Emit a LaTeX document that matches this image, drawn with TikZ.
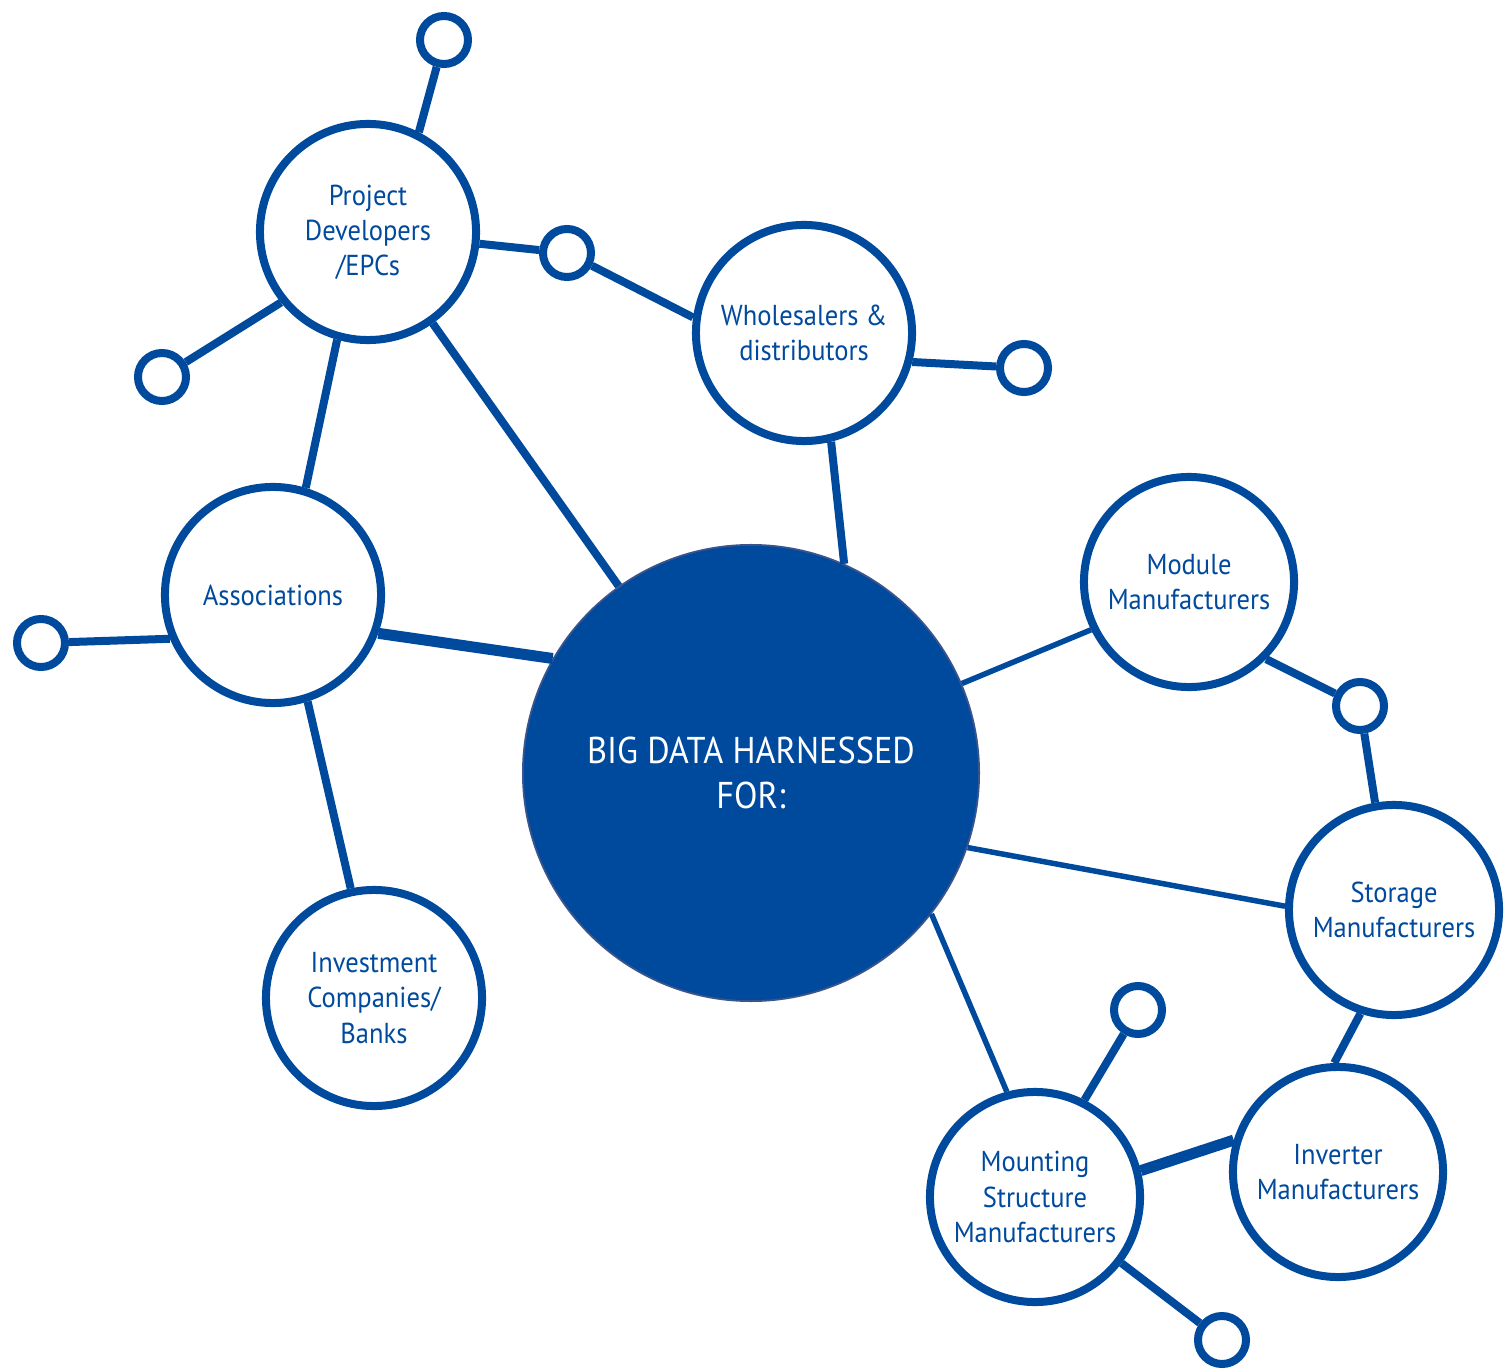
\documentclass[tikz,border=0pt]{standalone}
\usepackage{fontspec}
\setmainfont{PT Sans}[FakeStretch=0.92]
\usepackage{tikz}
\usetikzlibrary{calc}
\definecolor{netblue}{RGB}{0,74,158}
\definecolor{rimblue}{RGB}{60,84,140}
\tikzset{
    bubble/.style={circle, draw=netblue, line width=0.08cm, fill=white, text=netblue,
        minimum size=2.16cm, inner sep=0pt, align=center,
        font=\fontsize{8.2}{10}\selectfont},
    smallbubble/.style={bubble, minimum size=2.10cm},
    dot/.style={circle, draw=netblue, line width=0.08cm, fill=white, minimum size=0.48cm, inner sep=0pt},
    hub/.style={circle, draw=rimblue, line width=0.5pt, fill=netblue, text=white,
        minimum size=4.56cm, inner sep=0pt, align=center,
        font=\fontsize{10.6}{12.8}\selectfont},
    link/.style={draw=netblue, line width=0.08cm},
    thinlink/.style={draw=netblue, line width=0.055cm},
    thicklink/.style={draw=netblue, line width=0.11cm}
}

\begin{document}
\begin{tikzpicture}[x=0.01cm, y=-0.01cm]
    \useasboundingbox (0, 0) rectangle (1506, 1370);

    % Draw hub and bubbles
    \node[hub] (big) at (751, 773) {BIG DATA HARNESSED\\FOR:};
    \node[bubble] (devs) at (368, 232) {Project\\Developers\\/EPCs};
    \node[bubble] (sale) at (804, 333) {Wholesalers \&\\distributors};
    \node[bubble] (assoc) at (273, 595) {Associations};
    \node[bubble] (bank) at (374, 998) {Investment\\Companies/\\Banks};
    \node[smallbubble] (module) at (1189, 582) {Module\\Manufacturers};
    \node[smallbubble] (storage) at (1394, 910) {Storage\\Manufacturers};
    \node[smallbubble] (inverter) at (1338, 1172) {Inverter\\Manufacturers};
    \node[smallbubble] (mount) at (1035, 1197) {Mounting\\Structure\\Manufacturers};

    % Draw end dots
    \node[dot] (d1) at (444, 40) {};
    \node[dot] (d2) at (567, 253) {};
    \node[dot] (d3) at (162, 377) {};
    \node[dot] (d4) at (1024, 368) {};
    \node[dot] (d5) at (41, 643) {};
    \node[dot] (d6) at (1360, 706) {};
    \node[dot] (d7) at (1138, 1010) {};
    \node[dot] (d8) at (1222, 1340) {};

    % Draw links
    \path[link] (devs.63) -- (d1);
    \path[link] (devs) -- (d2);
    \path[link] (d2) -- (sale.172);
    \path[link] (devs.219) -- (d3);
    \path[link] (devs.254) -- (assoc.73);
    \path[link] (devs) -- (big);
    \path[link] (sale.-15) -- (d4);
    \path[link] (sale.-76) -- (big.66);
    \path[link] (assoc.203) -- (d5);
    \path[thicklink] (assoc.-20) -- (big.150);
    \path[link] (assoc.-72) -- (bank.102);
    \path[thinlink] (module.206) -- (big.23);
    \path[link] (module.-45) -- (d6);
    \path[link] (d6) -- (storage.100);
    \path[thinlink] (storage.178) -- (big.-19);
    \path[link] (storage.252) -- (inverter.92);
    \path[thinlink] (big.-38) -- (mount.105);
    \path[link] (mount.63) -- (d7);
    \path[thicklink] (mount.14) -- (inverter.163);
    \path[link] (mount) -- (d8);
\end{tikzpicture}
\end{document}
